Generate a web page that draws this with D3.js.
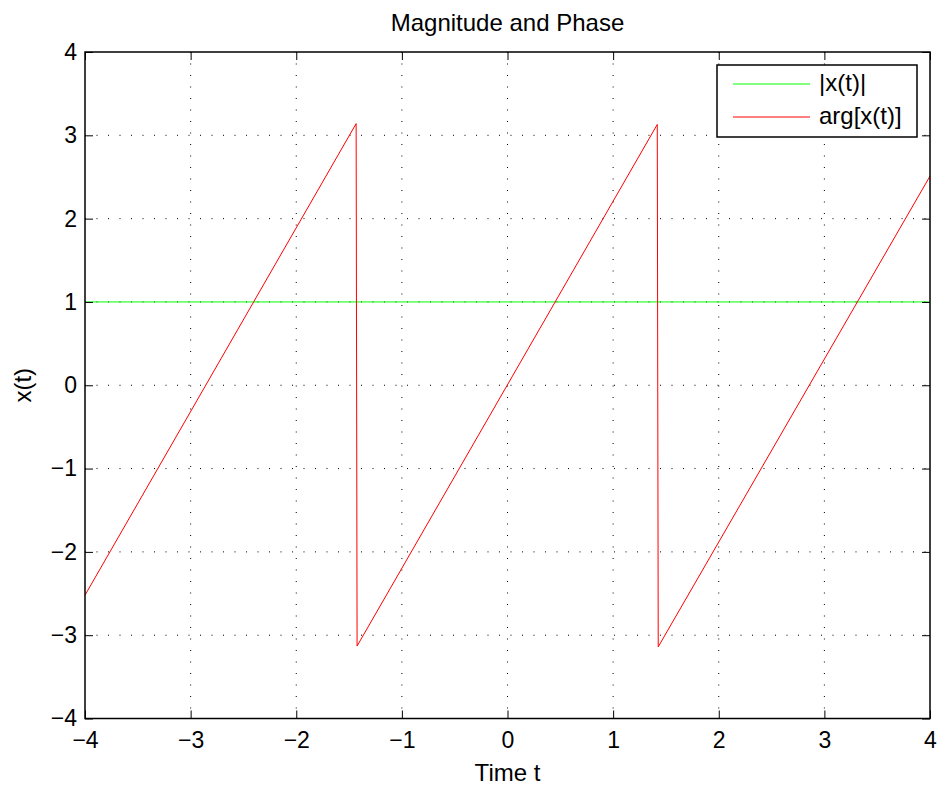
<!DOCTYPE html>
<html lang="en">
  <head>
    <meta charset="utf-8">
    <script src="https://cdn.jsdelivr.net/npm/d3@7"></script>
    <style>
      body { margin: 0; background: #fff; }
      text { font-family: "Liberation Sans", Arial, sans-serif; }
    </style>
  </head>
  <body>
    <script type="text/javascript">

      // data
      var xTicks = [-4, -3, -2, -1, 0, 1, 2, 3, 4];
      var yTicks = [-4, -3, -2, -1, 0, 1, 2, 3, 4];
      var magT = [-4, 4];
      var magY = [1, 1];
      var phaseT = [-4, -1.433, -1.424, 1.418, 1.427, 4];
      var phaseY = [-2.52, 3.14, -3.13, 3.13, -3.14, 2.51];
      var seriesNames = ["|x(t)|", "arg[x(t)]"];
      var seriesColors = ["#00ff00", "#ff0000"];

      var svgWidth = 941;
      var svgHeight = 789;
      var plotL = 85, plotR = 930, plotT = 52, plotB = 718.5;
      var fontSize = 24;
      var tickFont = 23;

      var svg = d3.select("body")
      .append("svg")
      .attr("width", svgWidth)
      .attr("height", svgHeight);

      var x = d3.scaleLinear().domain([-4, 4]).range([plotL, plotR]);
      var y = d3.scaleLinear().domain([-4, 4]).range([plotB, plotT]);

      // grid
      svg.selectAll(".gx")
      .data(xTicks.slice(1, -1))
      .enter().append("line")
      .attr("x1", d => x(d)).attr("x2", d => x(d))
      .attr("y1", plotT).attr("y2", plotB)
      .attr("stroke", "#000").attr("stroke-width", 1)
      .attr("stroke-dasharray", "1,10.5");

      svg.selectAll(".gy")
      .data(yTicks.slice(1, -1))
      .enter().append("line")
      .attr("y1", d => y(d)).attr("y2", d => y(d))
      .attr("x1", plotL).attr("x2", plotR)
      .attr("stroke", "#000").attr("stroke-width", 1)
      .attr("stroke-dasharray", "1,10.5");

      // lines
      var line = d3.line().x(d => x(d[0])).y(d => y(d[1]));
      svg.append("path")
      .attr("d", line(d3.zip(magT, magY)))
      .attr("fill", "none").attr("stroke", seriesColors[0]).attr("stroke-width", 1);
      svg.append("path")
      .attr("d", line(d3.zip(phaseT, phaseY)))
      .attr("fill", "none").attr("stroke", seriesColors[1]).attr("stroke-width", 1);

      // axes (MATLAB style box, ticks inside)
      var fmt = d => d < 0 ? "\u2212" + Math.abs(d) : d;
      svg.append("g")
      .attr("transform", "translate(0," + plotB + ")")
      .call(d3.axisBottom(x).tickValues(xTicks).tickSize(-8).tickPadding(13).tickFormat(fmt))
      .call(g => g.select(".domain").remove())
      .selectAll("text").attr("font-size", tickFont).attr("font-family", "Liberation Sans, Arial, sans-serif");

      svg.append("g")
      .attr("transform", "translate(" + plotL + ",0)")
      .call(d3.axisLeft(y).tickValues(yTicks).tickSize(-8).tickPadding(8).tickFormat(fmt))
      .call(g => g.select(".domain").remove())
      .selectAll("text").attr("font-size", tickFont).attr("font-family", "Liberation Sans, Arial, sans-serif");

      svg.append("g")
      .attr("transform", "translate(0," + plotT + ")")
      .call(d3.axisTop(x).tickValues(xTicks).tickSize(-8).tickFormat(""))
      .call(g => g.select(".domain").remove());

      svg.append("g")
      .attr("transform", "translate(" + plotR + ",0)")
      .call(d3.axisRight(y).tickValues(yTicks).tickSize(-8).tickFormat(""))
      .call(g => g.select(".domain").remove());

      svg.selectAll(".tick line").attr("stroke", "#000");

      svg.append("rect")
      .attr("x", plotL).attr("y", plotT)
      .attr("width", plotR - plotL).attr("height", plotB - plotT)
      .attr("fill", "none").attr("stroke", "#000").attr("stroke-width", 1.5);

      // labels
      svg.append("text")
      .attr("x", (plotL + plotR) / 2).attr("y", 31)
      .attr("text-anchor", "middle").attr("font-size", fontSize)
      .text("Magnitude and Phase");

      svg.append("text")
      .attr("x", (plotL + plotR) / 2).attr("y", 781)
      .attr("text-anchor", "middle").attr("font-size", fontSize)
      .text("Time t");

      svg.append("text")
      .attr("transform", "translate(31," + y(0) + ") rotate(-90)")
      .attr("text-anchor", "middle").attr("font-size", fontSize)
      .text("x(t)");

      // legend
      var lg = svg.append("g");
      lg.append("rect")
      .attr("x", 717).attr("y", 65).attr("width", 200).attr("height", 72)
      .attr("fill", "#fff").attr("stroke", "#000").attr("stroke-width", 1.5);

      var items = lg.selectAll(".item")
      .data(seriesNames)
      .enter().append("g")
      .attr("transform", (d, i) => "translate(0," + (84 + i * 33) + ")");
      items.append("line")
      .attr("x1", 733).attr("x2", 810)
      .attr("stroke", (d, i) => seriesColors[i]).attr("stroke-width", 1);
      items.append("text")
      .attr("x", 819).attr("y", 7)
      .attr("font-size", fontSize)
      .text(d => d);
    </script>
  </body>
</html>
